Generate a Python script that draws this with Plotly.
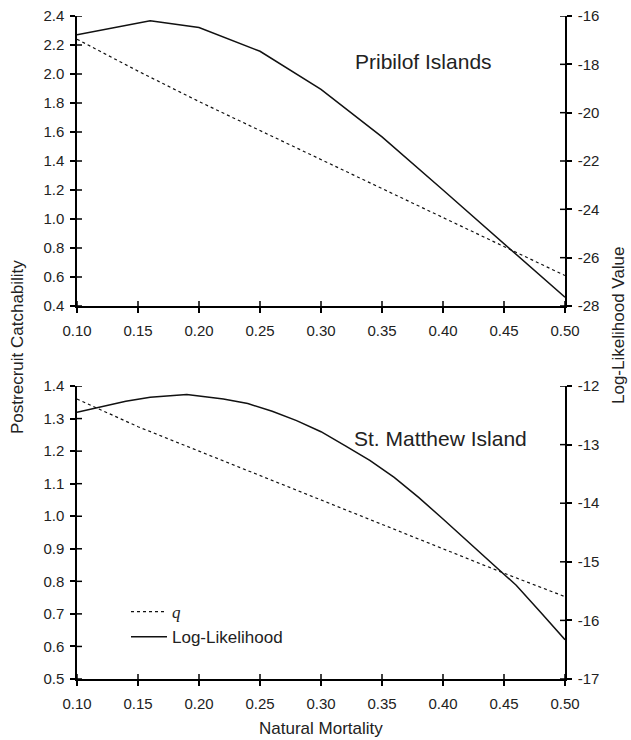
import plotly.graph_objects as go

# ---------------- data ----------------
M_top = [0.10, 0.15, 0.20, 0.25, 0.30, 0.35, 0.40, 0.45, 0.50]
q_top = [2.24, 2.02, 1.81, 1.61, 1.41, 1.21, 1.01, 0.81, 0.61]
M_top_ll = [0.10, 0.16, 0.20, 0.25, 0.30, 0.35, 0.40, 0.45, 0.50]
ll_top = [-16.78, -16.20, -16.48, -17.46, -19.04, -21.00, -23.20, -25.40, -27.64]

M_bot = [0.10, 0.15, 0.20, 0.25, 0.30, 0.35, 0.40, 0.45, 0.50]
q_bot = [1.36, 1.275, 1.20, 1.125, 1.05, 0.975, 0.90, 0.825, 0.753]
M_bot_ll = [0.10, 0.12, 0.14, 0.16, 0.18, 0.19, 0.20, 0.22, 0.24, 0.26, 0.28,
            0.30, 0.32, 0.34, 0.36, 0.38, 0.40, 0.42, 0.44, 0.46, 0.48, 0.50]
ll_bot = [-12.45, -12.36, -12.26, -12.19, -12.16, -12.145, -12.17, -12.22, -12.30,
          -12.43, -12.59, -12.78, -13.02, -13.27, -13.56, -13.90, -14.27, -14.65,
          -15.02, -15.40, -15.86, -16.33]

x_ticks = [0.10, 0.15, 0.20, 0.25, 0.30, 0.35, 0.40, 0.45, 0.50]
x_ticktext = ["0.10", "0.15", "0.20", "0.25", "0.30", "0.35", "0.40", "0.45", "0.50"]
yl_top_ticks = [0.4, 0.6, 0.8, 1.0, 1.2, 1.4, 1.6, 1.8, 2.0, 2.2, 2.4]
yl_top_text = ["0.4", "0.6", "0.8", "1.0", "1.2", "1.4", "1.6", "1.8", "2.0", "2.2", "2.4"]
yr_top_ticks = [-28, -26, -24, -22, -20, -18, -16]
yr_top_text = ["-28", "-26", "-24", "-22", "-20", "-18", "-16"]
yl_bot_ticks = [0.5, 0.6, 0.7, 0.8, 0.9, 1.0, 1.1, 1.2, 1.3, 1.4]
yl_bot_text = ["0.5", "0.6", "0.7", "0.8", "0.9", "1.0", "1.1", "1.2", "1.3", "1.4"]
yr_bot_ticks = [-17, -16, -15, -14, -13, -12]
yr_bot_text = ["-17", "-16", "-15", "-14", "-13", "-12"]

panel_titles = ["Pribilof Islands", "St. Matthew Island"]
series_names = ["<span style=\"font-family:'Liberation Serif', 'Times New Roman', serif\"><i>q</i></span>",
                "Log-Likelihood"]

# ---------------- figure ----------------
FONT = "Liberation Sans, Arial, sans-serif"
TXT = "#222222"
W, H = 631, 740
ml, mr, mt, mb = 77, 66, 16, 61
top_dom = [0.5626, 1.0]
bot_dom = [0.0, 0.4419]
PH = H - mt - mb
PW = W - ml - mr

fig = go.Figure()

dot_style = dict(color="#111111", width=1.2, dash="dot")
solid_style = dict(color="#111111", width=1.5)

fig.add_trace(go.Scatter(x=M_top, y=q_top, mode="lines", line=dot_style,
                         xaxis="x", yaxis="y", showlegend=False))
fig.add_trace(go.Scatter(x=M_top_ll, y=ll_top, mode="lines", line=solid_style,
                         xaxis="x", yaxis="y2", showlegend=False))
fig.add_trace(go.Scatter(x=M_bot, y=q_bot, mode="lines", line=dot_style,
                         xaxis="x2", yaxis="y3", name=series_names[0]))
fig.add_trace(go.Scatter(x=M_bot_ll, y=ll_bot, mode="lines", line=solid_style,
                         xaxis="x2", yaxis="y4", name=series_names[1]))

tickfont = dict(family=FONT, size=15, color=TXT)
common = dict(showgrid=False, zeroline=False, showline=True, linecolor="black",
              linewidth=1.5, ticks="outside", ticklen=5, tickwidth=1.5,
              tickcolor="black", tickfont=tickfont)

xr = [0.10, 0.50]
fig.update_layout(
    xaxis=dict(domain=[0, 1], range=xr, anchor="y", tickvals=x_ticks,
               ticktext=x_ticktext, ticklabelstandoff=5, **common),
    yaxis=dict(domain=top_dom, range=[0.4, 2.4], anchor="x", tickvals=yl_top_ticks,
               ticktext=yl_top_text, ticklabelstandoff=3, **common),
    yaxis2=dict(domain=top_dom, range=[-28, -16], anchor="x", overlaying="y",
                side="right", tickvals=yr_top_ticks, ticktext=yr_top_text,
                ticklabelstandoff=3, **common),
    xaxis2=dict(domain=[0, 1], range=xr, anchor="y3", tickvals=x_ticks,
                ticktext=x_ticktext, ticklabelstandoff=5, **common),
    yaxis3=dict(domain=bot_dom, range=[0.5, 1.4], anchor="x2", tickvals=yl_bot_ticks,
                ticktext=yl_bot_text, ticklabelstandoff=3, **common),
    yaxis4=dict(domain=bot_dom, range=[-17, -12], anchor="x2", overlaying="y3",
                side="right", tickvals=yr_bot_ticks, ticktext=yr_bot_text,
                ticklabelstandoff=3, **common),
)

# inner halves of the crossing tick marks (tick positions come from the tick lists)
shapes = []
tick_line = dict(color="black", width=1.5)
for xa, ya in [("x", "y"), ("x2", "y3")]:
    for v in x_ticks:
        shapes.append(dict(type="line", xref=xa, yref=f"{ya} domain", ysizemode="pixel",
                           yanchor=0, x0=v, x1=v, y0=0, y1=5, line=tick_line))
for xa, ya, vals, side in [("x", "y", yl_top_ticks, 0), ("x", "y2", yr_top_ticks, 1),
                           ("x2", "y3", yl_bot_ticks, 0), ("x2", "y4", yr_bot_ticks, 1)]:
    for v in vals:
        shapes.append(dict(type="line", xref=f"{xa} domain", yref=ya, xsizemode="pixel",
                           xanchor=side, x0=0, x1=(5 if side == 0 else -5), y0=v, y1=v,
                           line=tick_line))

fig.update_layout(
    width=W, height=H,
    margin=dict(l=ml, r=mr, t=mt, b=mb, pad=0, autoexpand=False),
    paper_bgcolor="white", plot_bgcolor="white",
    font=dict(family=FONT, color=TXT, size=15),
    showlegend=True,
    shapes=shapes,
    legend=dict(x=(126 - ml) / PW, y=(H - mb - 594) / PH, xanchor="left", yanchor="top",
                bgcolor="rgba(0,0,0,0)", borderwidth=0,
                font=dict(family=FONT, size=17, color=TXT),
                itemwidth=36, tracegroupgap=0),
    annotations=[
        dict(text=panel_titles[0], xref="paper", yref="paper",
             x=(423 - ml) / PW, y=1 - (62 - mt) / PH,
             xanchor="center", yanchor="middle", showarrow=False,
             font=dict(family=FONT, size=21, color=TXT)),
        dict(text=panel_titles[1], xref="paper", yref="paper",
             x=(440 - ml) / PW, y=1 - (438 - mt) / PH,
             xanchor="center", yanchor="middle", showarrow=False,
             font=dict(family=FONT, size=21, color=TXT)),
        dict(text="Natural Mortality", xref="paper", yref="paper",
             x=0.5, y=-(728 - (H - mb)) / PH,
             xanchor="center", yanchor="middle", showarrow=False,
             font=dict(family=FONT, size=17, color=TXT)),
        dict(text="Postrecruit Catchability", xref="paper", yref="paper",
             x=-(ml - 17) / PW, y=1 - (347 - mt) / PH,
             xanchor="center", yanchor="middle", showarrow=False, textangle=-90,
             font=dict(family=FONT, size=17, color=TXT)),
        dict(text="Log-Likelihood Value", xref="paper", yref="paper",
             x=1 + (618 - (W - mr)) / PW, y=1 - (325 - mt) / PH,
             xanchor="center", yanchor="middle", showarrow=False, textangle=-90,
             font=dict(family=FONT, size=17, color=TXT)),
    ],
)

fig.write_html("out.html")
